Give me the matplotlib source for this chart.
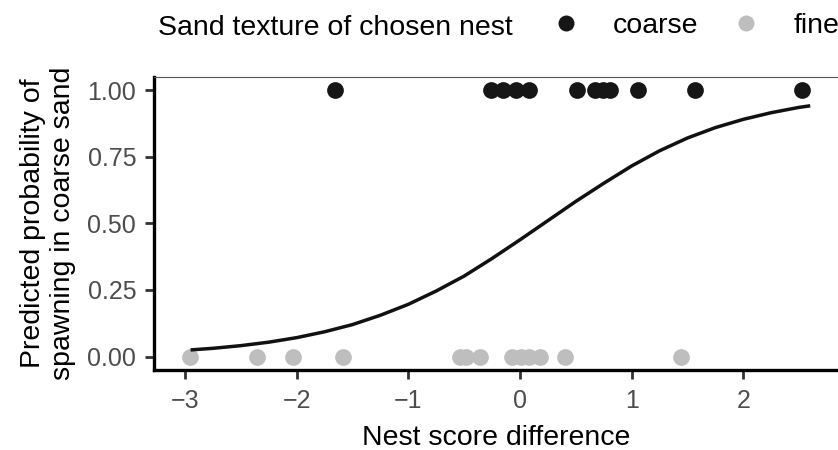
import numpy as np
import matplotlib.pyplot as plt
from matplotlib.lines import Line2D

plt.rcParams['font.family'] = ['Liberation Sans', 'DejaVu Sans']

# Nest score difference of each trial, split by sand texture of the chosen nest
coarse_x = [-1.656, -0.257, -0.149, -0.032, 0.084, 0.512, 0.668, 0.746, 0.804,
            1.056, 1.569, 2.525]
fine_x = [-2.955, -2.356, -2.03, -1.586, -0.537, -0.479, -0.362, -0.071, 0.007,
          0.084, 0.182, 0.407, 1.444]

# Predicted probability curve
curve_x = [-2.95, -2.75, -2.5, -2.25, -2.0, -1.75, -1.5, -1.25, -1.0, -0.75, -0.5,
           -0.25, 0.0, 0.25, 0.5, 0.75, 1.0, 1.25, 1.5, 1.75, 2.0, 2.25, 2.5, 2.6]
curve_p = [0.025, 0.031, 0.041, 0.054, 0.071, 0.093, 0.120, 0.155, 0.196, 0.246,
           0.302, 0.368, 0.438, 0.510, 0.582, 0.650, 0.715, 0.772, 0.820, 0.859,
           0.890, 0.915, 0.935, 0.941]

x_ticks = [-3, -2, -1, 0, 1, 2]
y_ticks = [0.0, 0.25, 0.5, 0.75, 1.0]

coarse_col = '#161616'
fine_col = '#bebebe'

fig = plt.figure(figsize=(8.38, 4.5), dpi=100)
ax = fig.add_axes([0.1832, 0.178, 0.8168, 0.6515])

ax.scatter(coarse_x, np.ones(len(coarse_x)), s=145, color=coarse_col, linewidths=0, zorder=2)
ax.scatter(fine_x, np.zeros(len(fine_x)), s=145, color=fine_col, linewidths=0, zorder=2)
ax.plot(curve_x, curve_p, color='#111111', lw=2.5, solid_capstyle='butt', zorder=3)

ax.set_xlim(-3.282, 2.849)
ax.set_ylim(-0.05, 1.05)
ax.set_xticks(x_ticks)
ax.set_xticklabels(['\u22123', '\u22122', '\u22121', '0', '1', '2'])
ax.set_yticks(y_ticks)
ax.set_yticklabels(['0.00', '0.25', '0.50', '0.75', '1.00'])

for side in ['left', 'bottom']:
    ax.spines[side].set_color('black')
    ax.spines[side].set_linewidth(2.4)
ax.spines['top'].set_color('#555555')
ax.spines['top'].set_linewidth(0.8)
ax.spines['right'].set_visible(False)

ax.tick_params(axis='both', length=6.5, width=2, color='#333333',
               labelsize=18, labelcolor='#4d4d4d')
ax.tick_params(axis='x', pad=7)
ax.tick_params(axis='y', pad=6)

ax.set_xlabel('Nest score difference', fontsize=20.5, labelpad=9)
ax.set_ylabel('Predicted probability of\nspawning in coarse sand', fontsize=20.5,
              labelpad=8, linespacing=1.2)

# legend across the top
fig.text(0.1885, 0.9222, 'Sand texture of chosen nest', fontsize=20.5, va='baseline')
handles = [Line2D([], [], ls='', marker='o', ms=11.5, color=coarse_col, mew=0),
           Line2D([], [], ls='', marker='o', ms=11.5, color=fine_col, mew=0)]
fig.legend(handles, ['coarse', 'fine'], loc='center left', bbox_to_anchor=(0.658, 0.942),
           ncol=2, frameon=False, fontsize=20.5, handlelength=1.0, handletextpad=1.15,
           columnspacing=1.19, borderpad=0, borderaxespad=0)

fig.savefig('out.png', dpi=100)
